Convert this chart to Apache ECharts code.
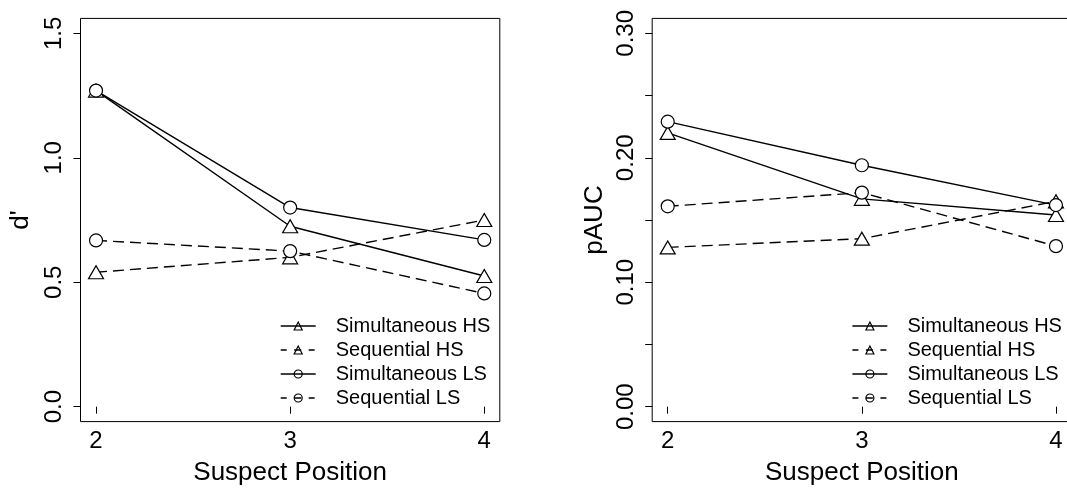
<!DOCTYPE html>
<html>
<head>
<meta charset="utf-8">
<script src="https://cdn.jsdelivr.net/npm/echarts@6/dist/echarts.min.js"></script>
<style>
html,body{margin:0;padding:0;background:#fff;}
#chart{width:1067px;height:490px;}
</style>
</head>
<body>
<div id="chart"></div>
<script>
// ---- data ----
const positions = [2, 3, 4];
const seriesNames = ['Simultaneous HS', 'Sequential HS', 'Simultaneous LS', 'Sequential LS'];

const dprimeSimHS = [1.27, 0.725, 0.525];
const dprimeSeqHS = [0.54, 0.60, 0.75];
const dprimeSimLS = [1.27, 0.80, 0.67];
const dprimeSeqLS = [0.668, 0.625, 0.455];

const paucSimHS = [0.220, 0.167, 0.154];
const paucSeqHS = [0.128, 0.135, 0.165];
const paucSimLS = [0.229, 0.194, 0.162];
const paucSeqLS = [0.161, 0.172, 0.129];

const xTicks = [2, 3, 4];
const dprimeTicks = [0, 0.5, 1.0, 1.5];
const paucTicks = [0, 0.05, 0.10, 0.15, 0.20, 0.25, 0.30];
const paucLabels = [0, 0.10, 0.20, 0.30];

// ---- styling ----
const FONT = '"Liberation Sans", Arial, Helvetica, sans-serif';
const styles = [
  {symbol: 'triangle', size: [15, 13], dash: 'solid', legendDash: 'solid'},
  {symbol: 'triangle', size: [15, 13], dash: [11, 6], legendDash: [6, 7.5, 7, 7.5, 6, 40]},
  {symbol: 'circle', size: 13, dash: 'solid', legendDash: 'solid'},
  {symbol: 'circle', size: 13, dash: [11, 6], legendDash: [6, 7.5, 7, 7.5, 6, 40]}
];

function pairs(vals) { return positions.map((p, i) => [p, vals[i]]); }

const panels = [
  {data: [dprimeSimHS, dprimeSeqHS, dprimeSimLS, dprimeSeqLS], left: 80.5},
  {data: [paucSimHS, paucSeqHS, paucSimLS, paucSeqLS], left: 652.2}
];

const grids = panels.map(p => ({
  left: p.left, top: 18.4, width: 419.3, height: 403.2,
  show: true, borderColor: '#000', borderWidth: 1, backgroundColor: 'transparent',
  containLabel: false, outerBoundsMode: 'none'
}));

const xAxes = panels.map((p, gi) => ({
  type: 'value', gridIndex: gi, min: 1.92, max: 4.08,
  name: 'Suspect Position', nameLocation: 'middle', nameGap: 38,
  nameTextStyle: {fontFamily: FONT, fontSize: 26, color: '#000'},
  axisLine: {show: false},
  axisTick: {show: true, inside: false, length: 7, customValues: xTicks, lineStyle: {color: '#000', width: 1}},
  axisLabel: {show: true, customValues: xTicks, margin: 8, fontFamily: FONT, fontSize: 24, color: '#000'},
  splitLine: {show: false}
}));

const yAxes = [
  {
    type: 'value', gridIndex: 0, min: -0.06, max: 1.56,
    name: "d'", nameLocation: 'middle', nameGap: 47,
    nameTextStyle: {fontFamily: FONT, fontSize: 26, color: '#000'},
    axisLine: {show: false},
    axisTick: {show: true, inside: false, length: 7, customValues: dprimeTicks, lineStyle: {color: '#000', width: 1}},
    axisLabel: {show: true, customValues: dprimeTicks, rotate: 90, margin: 14, fontFamily: FONT, fontSize: 24, color: '#000',
      formatter: v => Number(v).toFixed(1)},
    splitLine: {show: false}
  },
  {
    type: 'value', gridIndex: 1, min: -0.012, max: 0.312,
    name: 'pAUC', nameLocation: 'middle', nameGap: 44,
    nameTextStyle: {fontFamily: FONT, fontSize: 26, color: '#000'},
    axisLine: {show: false},
    axisTick: {show: true, inside: false, length: 7, customValues: paucTicks, lineStyle: {color: '#000', width: 1}},
    axisLabel: {show: true, customValues: paucLabels, rotate: 90, margin: 14, fontFamily: FONT, fontSize: 24, color: '#000',
      formatter: v => Number(v).toFixed(2)},
    splitLine: {show: false}
  }
];

const series = [];
panels.forEach((p, gi) => {
  p.data.forEach((vals, si) => {
    const st = styles[si];
    series.push({
      name: seriesNames[si], type: 'line', xAxisIndex: gi, yAxisIndex: gi,
      data: pairs(vals),
      symbol: st.symbol, symbolSize: st.size, showSymbol: true,
      lineStyle: {color: '#000', width: 1.4, type: st.dash},
      itemStyle: {color: '#fff', borderColor: '#000', borderWidth: 1.2},
      emphasis: {disabled: true},
      z: 2 + si
    });
  });
});

const legendBase = {
  orient: 'vertical', top: 314, padding: 0, itemGap: 0,
  itemWidth: 35, itemHeight: 10,
  itemStyle: {color: 'rgba(0,0,0,0)', borderColor: '#000', borderWidth: 1.2},
  data: seriesNames.map((n, i) => ({name: n, lineStyle: {type: styles[i].legendDash, color: '#000', width: 1.4}})),
  selectedMode: false,
  formatter: name => '{s|}' + name,
  textStyle: {fontFamily: FONT, fontSize: 20, color: '#000', lineHeight: 24,
    rich: {s: {width: 15, fontSize: 20, lineHeight: 24}}}
};

const option = {
  animation: false,
  backgroundColor: '#fff',
  grid: grids,
  xAxis: xAxes,
  yAxis: yAxes,
  legend: [
    Object.assign({}, legendBase, {left: 280}),
    Object.assign({}, legendBase, {left: 851.7})
  ],
  series: series
};

const chart = echarts.init(document.getElementById('chart'), null, {renderer: 'canvas'});
chart.setOption(option);
</script>
</body>
</html>
